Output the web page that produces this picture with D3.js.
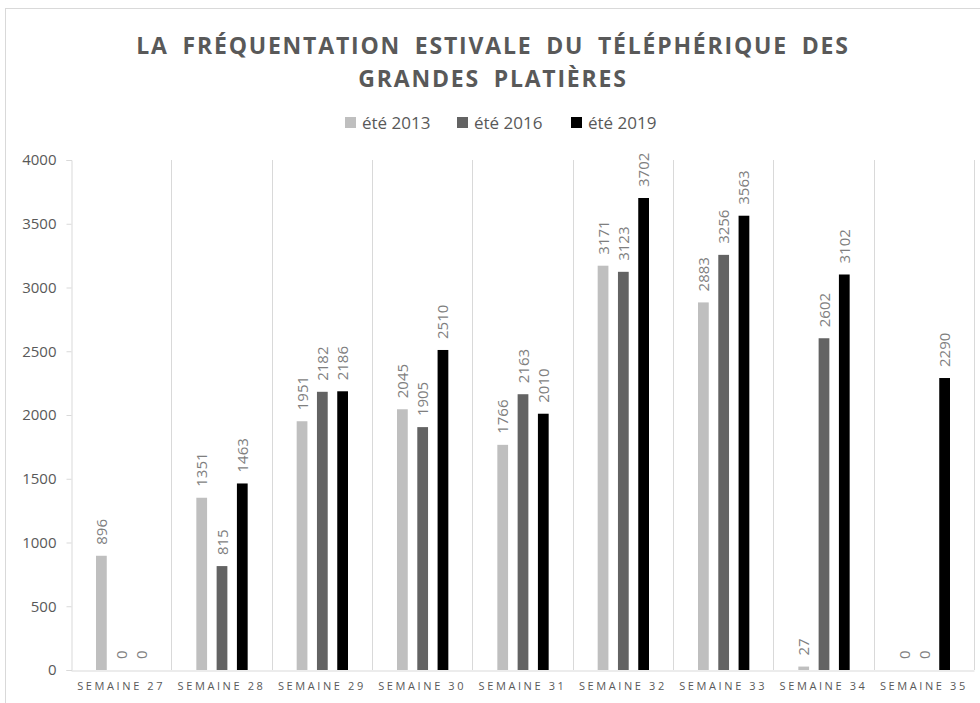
<!DOCTYPE html>
<html>
<head>
<meta charset="utf-8">
<script src="https://cdn.jsdelivr.net/npm/d3@7"></script>
<style>
  body { margin: 0; background: #fff; }
  text { font-family: "Open Sans", sans-serif; }
</style>
</head>
<body>
<div id="chart"></div>
<script>
const semaines = ["SEMAINE 27", "SEMAINE 28", "SEMAINE 29", "SEMAINE 30", "SEMAINE 31", "SEMAINE 32", "SEMAINE 33", "SEMAINE 34", "SEMAINE 35"]
const ete2013 = [896, 1351, 1951, 2045, 1766, 3171, 2883, 27, 0]
const ete2016 = [0, 815, 2182, 1905, 2163, 3123, 3256, 2602, 0]
const ete2019 = [0, 1463, 2186, 2510, 2010, 3702, 3563, 3102, 2290]
const series = ["été 2013", "été 2016", "été 2019"]
const yTicks = [0, 500, 1000, 1500, 2000, 2500, 3000, 3500, 4000]

const width = 980
const height = 703
const margin = { top: 160, right: 6, bottom: 33, left: 71 }

const svg = d3.select("#chart")
    .append("svg")
    .attr("width", width)
    .attr("height", height)

// cadre du graphique
svg.append("rect")
    .attr("x", 5.5).attr("y", 8.5)
    .attr("width", 1000).attr("height", 1000)
    .attr("fill", "none")
    .attr("stroke", "#d9d9d9")

const x = d3.scaleBand()
    .domain(semaines)
    .range([margin.left, width - margin.right])

const x1 = d3.scaleBand()
    .domain(series)
    .range([25, x.bandwidth() - 24])
    .paddingInner(0.47)

const y = d3.scaleLinear()
    .domain([0, 4000])
    .range([height - margin.bottom, margin.top])

const color = d3.scaleOrdinal()
    .domain(series)
    .range(["#bfbfbf", "#636363", "#000000"])

// lignes verticales entre les semaines
svg.append("g")
    .selectAll("line")
    .data(semaines.slice(1).concat(["fin"]))
    .enter()
    .append("line")
    .attr("x1", (d, i) => Math.round(x(semaines[0]) + (i + 1) * x.step()) + 0.5)
    .attr("x2", (d, i) => Math.round(x(semaines[0]) + (i + 1) * x.step()) + 0.5)
    .attr("y1", y(4000))
    .attr("y2", y(0))
    .attr("stroke", "#d9d9d9")

// axe y
const yAxis = svg.append("g")
    .attr("transform", `translate(${margin.left + 0.5},0)`)
    .call(d3.axisLeft(y).tickValues(yTicks).tickFormat(d3.format("d")).tickSize(5).tickPadding(10))
yAxis.select(".domain").attr("stroke", "#d9d9d9")
yAxis.selectAll(".tick line").attr("stroke", "#d9d9d9")
yAxis.selectAll(".tick text")
    .attr("fill", "#595959")
    .style("font-size", "15px")
    .style("font-family", "Open Sans")

// axe x
const xAxis = svg.append("g")
    .attr("transform", `translate(0,${y(0) + 0.5})`)
    .call(d3.axisBottom(x).tickSize(0).tickPadding(12))
xAxis.select(".domain").attr("stroke", "#d9d9d9")
xAxis.selectAll(".tick text")
    .attr("fill", "#595959")
    .style("font-size", "11px")
    .style("letter-spacing", "2.6px")
    .style("font-family", "Open Sans")

const data = semaines.map((s, i) => ({
    semaine: s,
    valeurs: [
        { serie: series[0], v: ete2013[i] },
        { serie: series[1], v: ete2016[i] },
        { serie: series[2], v: ete2019[i] }
    ]
}))

const groups = svg.append("g")
    .selectAll("g")
    .data(data)
    .enter()
    .append("g")
    .attr("transform", d => `translate(${x(d.semaine)},0)`)

groups.selectAll("rect")
    .data(d => d.valeurs)
    .enter()
    .append("rect")
    .attr("x", d => x1(d.serie))
    .attr("y", d => y(d.v))
    .attr("width", x1.bandwidth())
    .attr("height", d => y(0) - y(d.v))
    .style("fill", d => color(d.serie))

groups.selectAll(".label")
    .data(d => d.valeurs)
    .enter()
    .append("text")
    .attr("class", "label")
    .attr("transform", d => `translate(${x1(d.serie) + x1.bandwidth() / 2 + 5.5},${y(d.v) - 11}) rotate(-90)`)
    .attr("fill", "#7f7f7f")
    .style("font-size", "15px")
    .text(d => d.v)

// titre
const title = svg.append("g")
    .attr("fill", "#595959")
    .style("font-weight", "bold")
    .style("font-size", "23px")
    .style("letter-spacing", "1.8px")
    .style("word-spacing", "6px")
title.append("text")
    .attr("x", 493).attr("y", 54)
    .attr("text-anchor", "middle")
    .text("LA FRÉQUENTATION ESTIVALE DU TÉLÉPHÉRIQUE DES")
title.append("text")
    .attr("x", 493).attr("y", 87)
    .attr("text-anchor", "middle")
    .text("GRANDES PLATIÈRES")

// légende
const legendX = [345, 457, 571]
const legend = svg.append("g")
    .selectAll("g")
    .data(series)
    .enter()
    .append("g")
    .attr("transform", (d, i) => `translate(${legendX[i]},117)`)
legend.append("rect")
    .attr("width", 11).attr("height", 11)
    .style("fill", d => color(d))
legend.append("text")
    .attr("x", 17).attr("y", 11.5)
    .attr("fill", "#595959")
    .style("font-size", "17px")
    .text(d => d)
</script>
</body>
</html>
